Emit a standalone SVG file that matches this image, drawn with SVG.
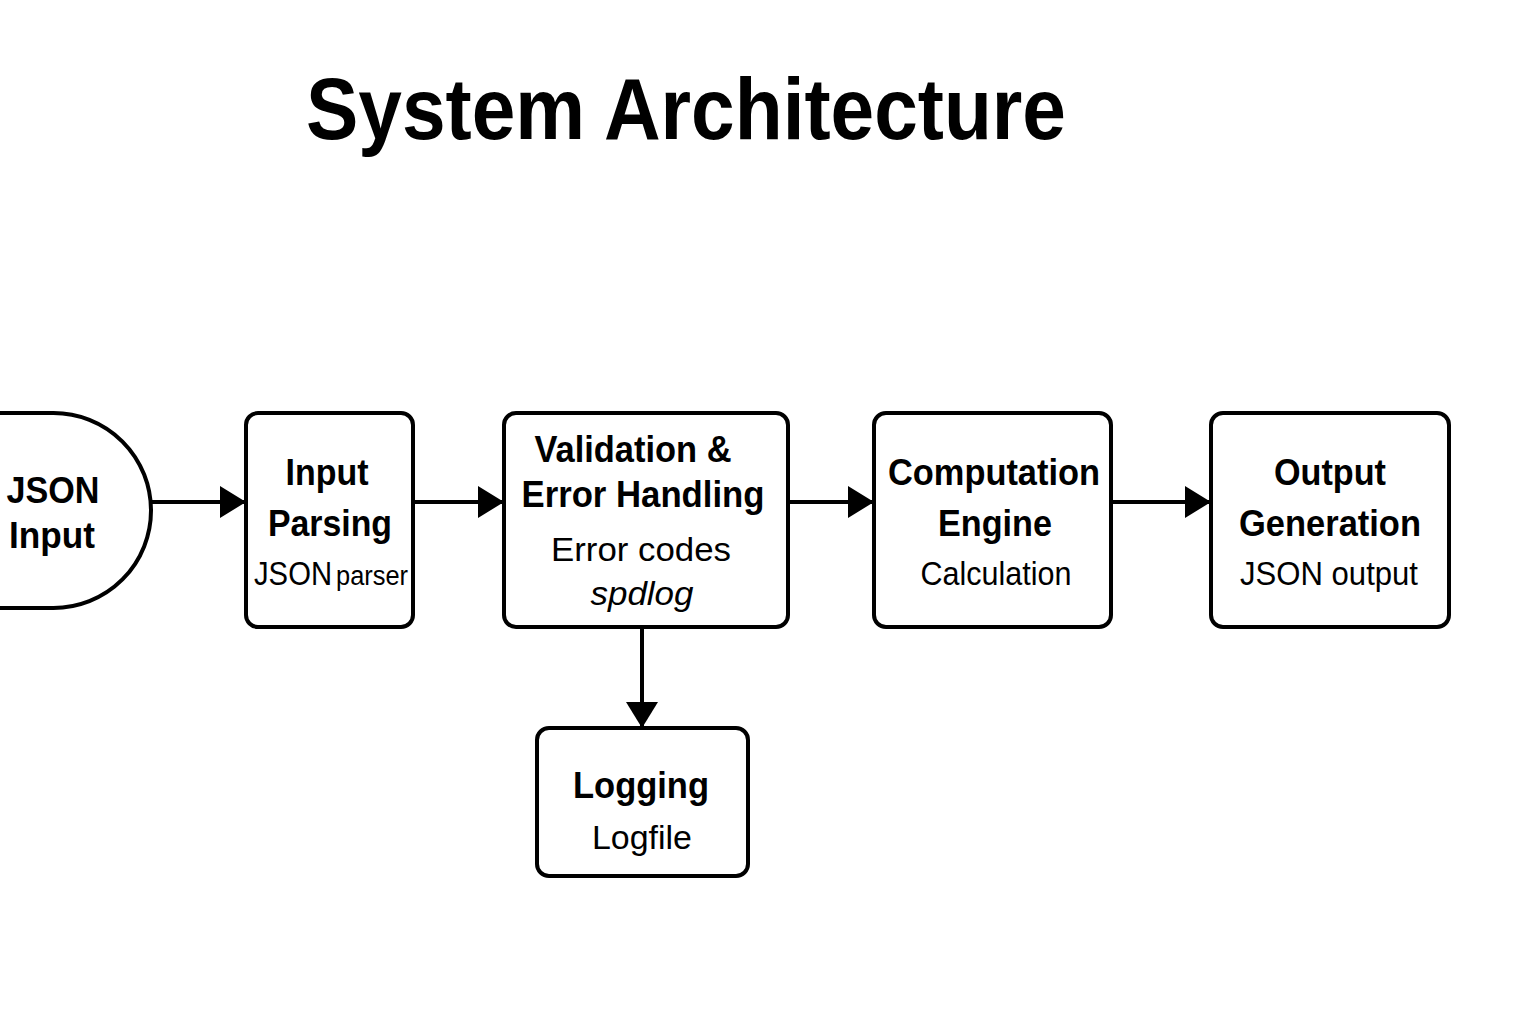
<svg xmlns="http://www.w3.org/2000/svg" width="1536" height="1024" viewBox="0 0 1536 1024">
<style>
.box{fill:#fff;stroke:#000;stroke-width:4}
.b{font-family:"Liberation Sans",Arial,sans-serif;font-weight:bold;font-size:37px;fill:#000;text-anchor:middle}
.n{font-family:"Liberation Sans",Arial,sans-serif;font-size:33px;fill:#000;text-anchor:middle}
.c{stroke:#000;stroke-width:4;fill:none}
</style>
<defs>
<marker id="ah" markerWidth="26" markerHeight="32" refX="26" refY="16" orient="auto" markerUnits="userSpaceOnUse">
<path d="M0,0 L26,16 L0,32 Z" fill="#000"/>
</marker>
</defs>
<rect width="1536" height="1024" fill="#fff"/>
<text x="686" y="139" font-family="Liberation Sans,Arial,sans-serif" font-weight="bold" font-size="88" text-anchor="middle" textLength="760" lengthAdjust="spacingAndGlyphs">System Architecture</text>
<g id="connectors">
<line class="c" x1="151" y1="502" x2="246" y2="502" marker-end="url(#ah)"/>
<line class="c" x1="413" y1="502" x2="504" y2="502" marker-end="url(#ah)"/>
<line class="c" x1="788" y1="502" x2="874" y2="502" marker-end="url(#ah)"/>
<line class="c" x1="1111" y1="502" x2="1211" y2="502" marker-end="url(#ah)"/>
<line class="c" x1="642" y1="627" x2="642" y2="728" marker-end="url(#ah)"/>
</g>
<g id="json-input">
<rect class="box" x="-100" y="413" width="251" height="195" rx="97.5"/>
<text class="b" x="53" y="503" textLength="93" lengthAdjust="spacingAndGlyphs">JSON</text>
<text class="b" x="52" y="548" textLength="86" lengthAdjust="spacingAndGlyphs">Input</text>
</g>
<g id="input-parsing">
<rect class="box" x="246" y="413" width="167" height="214" rx="12"/>
<text class="b" x="327" y="485" textLength="83" lengthAdjust="spacingAndGlyphs">Input</text>
<text class="b" x="330" y="536" textLength="124" lengthAdjust="spacingAndGlyphs">Parsing</text>
<text class="n" x="331" y="585" font-size="31"><tspan textLength="78" lengthAdjust="spacingAndGlyphs">JSON</tspan><tspan font-size="27" dx="4" textLength="72" lengthAdjust="spacingAndGlyphs">parser</tspan></text>
</g>
<g id="validation">
<rect class="box" x="504" y="413" width="284" height="214" rx="12"/>
<text class="b" x="633" y="462" textLength="197" lengthAdjust="spacingAndGlyphs">Validation &amp;</text>
<text class="b" x="643" y="507" textLength="243" lengthAdjust="spacingAndGlyphs">Error Handling</text>
<text class="n" x="641" y="561" font-size="38" textLength="180" lengthAdjust="spacingAndGlyphs">Error codes</text>
<text class="n" x="642" y="605" font-size="38" font-style="italic" textLength="103" lengthAdjust="spacingAndGlyphs">spdlog</text>
</g>
<g id="computation">
<rect class="box" x="874" y="413" width="237" height="214" rx="12"/>
<text class="b" x="994" y="485" textLength="212" lengthAdjust="spacingAndGlyphs">Computation</text>
<text class="b" x="995" y="536" textLength="114" lengthAdjust="spacingAndGlyphs">Engine</text>
<text class="n" x="996" y="585" textLength="151" lengthAdjust="spacingAndGlyphs">Calculation</text>
</g>
<g id="output">
<rect class="box" x="1211" y="413" width="238" height="214" rx="12"/>
<text class="b" x="1330" y="485" textLength="112" lengthAdjust="spacingAndGlyphs">Output</text>
<text class="b" x="1330" y="536" textLength="182" lengthAdjust="spacingAndGlyphs">Generation</text>
<text class="n" x="1329" y="585" textLength="178" lengthAdjust="spacingAndGlyphs">JSON output</text>
</g>
<g id="logging">
<rect class="box" x="537" y="728" width="211" height="148" rx="12"/>
<text class="b" x="641" y="798" textLength="136" lengthAdjust="spacingAndGlyphs">Logging</text>
<text class="n" x="642" y="849" font-size="36" textLength="100" lengthAdjust="spacingAndGlyphs">Logfile</text>
</g>
</svg>
